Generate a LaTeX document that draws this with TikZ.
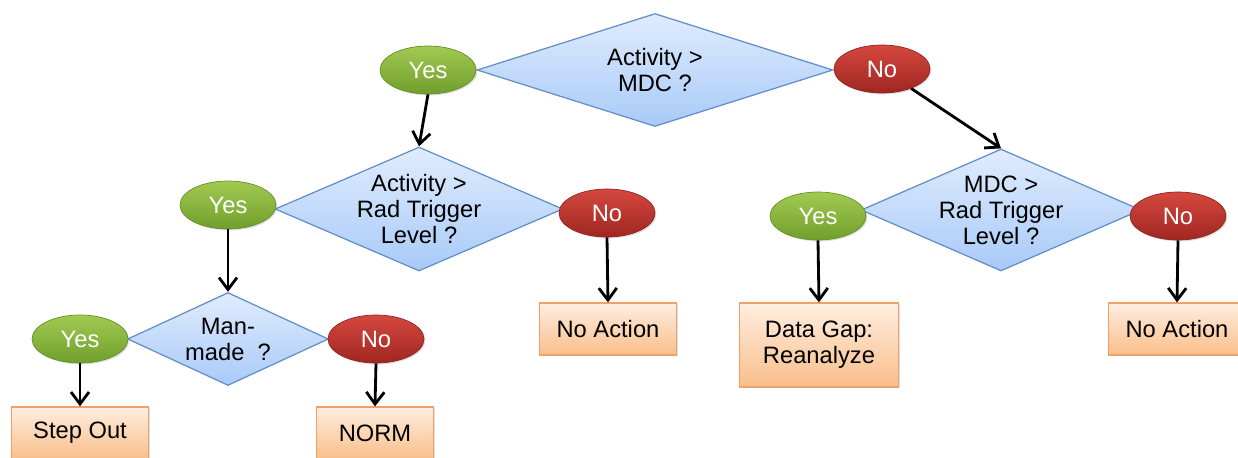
\documentclass[tikz,border=0pt]{standalone}
\usepackage{fontspec}
\setmainfont{Liberation Sans}
\usepackage{xcolor}
\usetikzlibrary{shapes.geometric,arrows.meta,shadows}
\definecolor{decisiontop}{RGB}{224,236,253}
\definecolor{decisionbottom}{RGB}{168,202,248}
\definecolor{decisionline}{RGB}{98,142,200}
\definecolor{yestop}{RGB}{162,202,82}
\definecolor{yesbottom}{RGB}{112,158,44}
\definecolor{notop}{RGB}{212,72,62}
\definecolor{nobottom}{RGB}{160,38,34}
\definecolor{actiontop}{RGB}{254,238,224}
\definecolor{actionbottom}{RGB}{250,190,138}
\definecolor{actionline}{RGB}{236,162,104}

\begin{document}
\begin{tikzpicture}[x=0.02cm, y=-0.02cm,
    font=\fontsize{13.5}{14.8}\selectfont,
    decision/.style={diamond, draw=decisionline, line width=0.7pt, top color=decisiontop, bottom color=decisionbottom, align=center, inner xsep=0pt, inner ysep=-4pt},
    answer/.style={ellipse, minimum width=1.92cm, minimum height=0.96cm, text=white, inner sep=0pt, drop shadow={opacity=0.25, shadow xshift=0.8pt, shadow yshift=-0.8pt}},
    yes/.style={answer, draw=yesbottom!90!black, line width=0.4pt, top color=yestop, bottom color=yesbottom},
    no/.style={answer, draw=nobottom!90!black, line width=0.4pt, top color=notop, bottom color=nobottom},
    action/.style={rectangle, draw=actionline, line width=0.7pt, top color=actiontop, bottom color=actionbottom, align=center, minimum height=1.04cm, drop shadow={opacity=0.25, shadow xshift=0.8pt, shadow yshift=-0.8pt}},
    flow/.style={line width=1.6pt, -{Straight Barb[length=2.4mm, width=3.6mm]}}]
    \useasboundingbox (0,0) rectangle (1238,457);

    % First question
    \node[decision, aspect=3.15, minimum width=7.12cm, minimum height=2.26cm] (actmdc) at (655,70) {Activity >\\MDC ?};
    \node[yes] (yesA) at (428,70) {Yes};
    \node[no] (noA) at (882,69) {No};

    % Activity above the trigger level
    \node[decision, aspect=2.32, minimum width=5.76cm, minimum height=2.48cm] (actrad) at (419,209) {Activity >\\Rad Trigger\\Level ?};
    \node[yes] (yesB) at (228,205) {Yes};
    \node[no] (noB) at (607,213) {No};

    % Man-made source
    \node[decision, aspect=2.16, minimum width=4.02cm, minimum height=1.86cm] (manmade) at (228,339) {Man-\\made~ ?};
    \node[yes] (yesC) at (80,339) {Yes};
    \node[no] (noC) at (376,339) {No};

    % MDC above the trigger level
    \node[decision, aspect=2.3, minimum width=5.6cm, minimum height=2.44cm] (mdcrad) at (1001,210) {MDC >\\Rad Trigger\\Level ?};
    \node[yes] (yesD) at (818,216) {Yes};
    \node[no] (noD) at (1178,216) {No};

    % Outcomes
    \node[action, minimum width=2.74cm] (stepout) at (80,433) {Step Out};
    \node[action, minimum width=2.34cm] (norm) at (375,433) {NORM};
    \node[action, minimum width=2.74cm] (noaction) at (608,329) {No Action};
    \node[action, minimum width=3.18cm, minimum height=1.68cm] (datagap) at (819,345) {Data Gap:\\Reanalyze};
    \node[action, minimum width=2.74cm] (noaction2) at (1177,329) {No Action};

    % Connectors
    \draw[flow] (yesA.south) -- (actrad.north);
    \draw[flow] (noA) -- (mdcrad.north);
    \draw[flow] (yesB.south) -- (manmade.north);
    \draw[flow] (noB.south) -- (noaction.north);
    \draw[flow] (yesC.south) -- (stepout.north);
    \draw[flow] (noC.south) -- (norm.north);
    \draw[flow] (yesD.south) -- (datagap.north);
    \draw[flow] (noD.south) -- (noaction2.north);
\end{tikzpicture}
\end{document}
